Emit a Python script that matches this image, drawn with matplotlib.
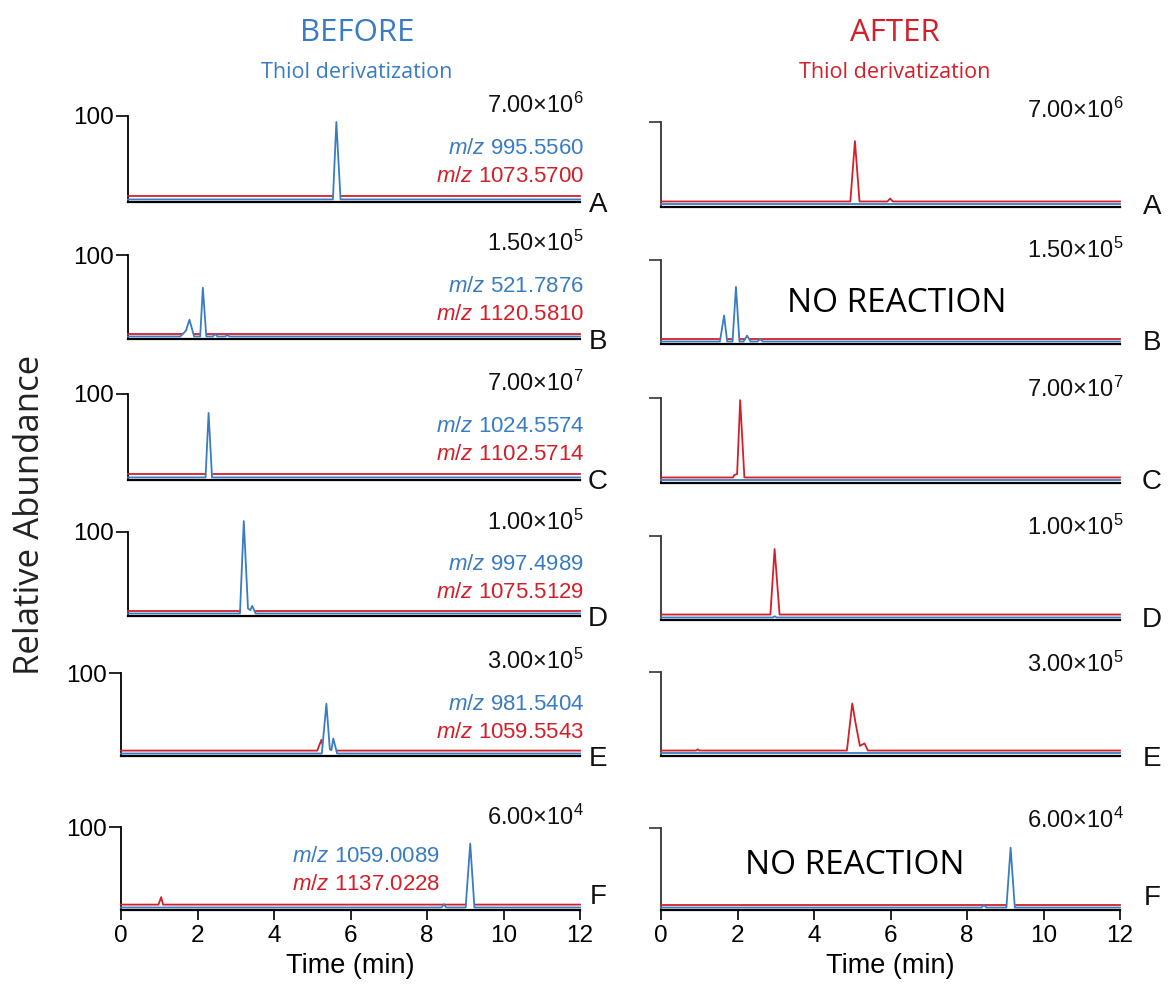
import matplotlib
matplotlib.use("Agg")
import matplotlib.pyplot as plt

plt.rcParams['font.family'] = ['Liberation Sans', 'DejaVu Sans']
plt.rcParams['mathtext.fontset'] = 'custom'
plt.rcParams['mathtext.rm'] = 'Liberation Sans'
plt.rcParams['mathtext.it'] = 'Liberation Sans:italic'

BLUE = '#3a7cc2'
RED = '#d2202a'

# ---- data: extracted ion chromatograms (time in min, relative abundance %) ----
rows = ['A', 'B', 'C', 'D', 'E', 'F']
scales = ['7.00×10$^{6}$', '1.50×10$^{5}$', '7.00×10$^{7}$',
          '1.00×10$^{5}$', '3.00×10$^{5}$', '6.00×10$^{4}$']
mz_blue = ['995.5560', '521.7876', '1024.5574', '997.4989', '981.5404', '1059.0089']
mz_red = ['1073.5700', '1120.5810', '1102.5714', '1075.5129', '1059.5543', '1137.0228']

# BEFORE thiol derivatization
bA_blue_t = [0.18, 5.54, 5.63, 5.74, 12]
bA_blue_y = [0, 0, 90, 0, 0]
bA_red_t = [0.18, 12]
bA_red_y = [0, 0]

bB_blue_t = [0.18, 1.55, 1.70, 1.79, 1.91, 2.07, 2.14, 2.23, 2.40, 2.46, 2.52, 2.72, 2.78, 2.84, 12]
bB_blue_y = [0, 0, 7, 20, 0, 0, 58, 0, 0, 3, 0, 0, 1.5, 0, 0]
bB_red_t = [0.18, 12]
bB_red_y = [0, 0]

bC_blue_t = [0.18, 2.21, 2.29, 2.38, 12]
bC_blue_y = [0, 0, 75, 0, 0]
bC_red_t = [0.18, 12]
bC_red_y = [0, 0]

bD_blue_t = [0.18, 3.11, 3.21, 3.32, 3.38, 3.43, 3.52, 12]
bD_blue_y = [0, 0, 110, 6, 4, 9, 0, 0]
bD_red_t = [0.18, 12]
bD_red_y = [0, 0]

bE_blue_t = [0, 5.25, 5.37, 5.46, 5.50, 5.55, 5.65, 12]
bE_blue_y = [0, 0, 60, 5, 4, 18, 0, 0]
bE_red_t = [0, 5.13, 5.24, 5.31, 12]
bE_red_y = [0, 0, 13, 0, 0]

bF_blue_t = [0, 8.38, 8.44, 8.50, 9.01, 9.13, 9.24, 12]
bF_blue_y = [0, 0, 4, 0, 0, 77, 0, 0]
bF_red_t = [0, 0.98, 1.05, 1.10, 12]
bF_red_y = [0, 0, 9, 0, 0]

# AFTER thiol derivatization
aA_blue_t = [0, 12]
aA_blue_y = [0, 0]
aA_red_t = [0, 4.95, 5.07, 5.19, 5.92, 5.99, 6.06, 12]
aA_red_y = [0, 0, 71, 0, 0, 3.5, 0, 0]

aB_blue_t = [0, 1.54, 1.65, 1.73, 1.87, 1.96, 2.05, 2.16, 2.25, 2.34, 2.52, 2.59, 2.66, 12]
aB_blue_y = [0, 0, 31, 0, 0, 65, 0, 0, 7, 0, 0, 3, 0, 0]
aB_red_t = [0, 12]
aB_red_y = [0, 0]

aC_blue_t = [0, 12]
aC_blue_y = [0, 0]
aC_red_t = [0, 1.88, 1.92, 1.99, 2.07, 2.18, 12]
aC_red_y = [0, 0, 3, 4, 91, 0, 0]

aD_blue_t = [0, 2.92, 2.97, 3.02, 12]
aD_blue_y = [0, 0, 1.5, 0, 0]
aD_red_t = [0, 2.86, 2.97, 3.10, 12]
aD_red_y = [0, 0, 78, 0, 0]

aE_blue_t = [0, 12]
aE_blue_y = [0, 0]
aE_red_t = [0, 0.92, 0.96, 1.00, 4.86, 5.00, 5.09, 5.20, 5.32, 5.41, 12]
aE_red_y = [0, 0, 1.5, 0, 0, 56, 32, 5.5, 8.5, 0, 0]

aF_blue_t = [0, 8.38, 8.44, 8.51, 9.03, 9.14, 9.25, 12]
aF_blue_y = [0, 0, 3, 0, 0, 73, 0, 0]
aF_red_t = [0, 12]
aF_red_y = [0, 0]

before = [(bA_blue_t, bA_blue_y, bA_red_t, bA_red_y),
          (bB_blue_t, bB_blue_y, bB_red_t, bB_red_y),
          (bC_blue_t, bC_blue_y, bC_red_t, bC_red_y),
          (bD_blue_t, bD_blue_y, bD_red_t, bD_red_y),
          (bE_blue_t, bE_blue_y, bE_red_t, bE_red_y),
          (bF_blue_t, bF_blue_y, bF_red_t, bF_red_y)]
after = [(aA_blue_t, aA_blue_y, aA_red_t, aA_red_y),
         (aB_blue_t, aB_blue_y, aB_red_t, aB_red_y),
         (aC_blue_t, aC_blue_y, aC_red_t, aC_red_y),
         (aD_blue_t, aD_blue_y, aD_red_t, aD_red_y),
         (aE_blue_t, aE_blue_y, aE_red_t, aE_red_y),
         (aF_blue_t, aF_blue_y, aF_red_t, aF_red_y)]

# ---- layout (pixels) ----
W, H = 1172, 990
BLUE_OFF, RED_OFF = 3, 6.5
col_x = [(121, 580), (661, 1120)]
rows_px = [[(116, 202), (255, 339), (394, 480), (532, 616), (673, 756), (827, 910)],
           [(122, 207), (260, 344), (398, 483), (536, 620), (672, 756), (828, 910)]]
letter_y = [[205, 342, 482, 619, 759, 897], [207, 343, 482, 620, 759, 898]]
scale_y = [[105, 243, 383, 522, 661, 817], [110, 250, 389, 527, 664, 820]]


def fx(x):
    return x / W


def fy(y):
    return 1 - y / H


fig = plt.figure(figsize=(W / 100, H / 100), dpi=100)


def draw_trace(ax, t, y, off, color, z):
    yy = [v + off for v in y]
    ax.fill_between(t, off, yy, color='white', lw=0, zorder=z)
    ax.plot(t, yy, color=color, lw=1.3, zorder=z + 0.05, clip_on=False)


for c, data in enumerate([before, after]):
    x0, x1 = col_x[c]
    for r in range(6):
        top, bot = rows_px[c][r]
        ax = fig.add_axes([fx(x0), fy(bot), (x1 - x0) / W, (bot - top) / H])
        ax.set_xlim(0, 12)
        ax.set_ylim(0, 100)
        ax.patch.set_alpha(0)
        for s in ['top', 'right']:
            ax.spines[s].set_visible(False)
        spine_col = 'black' if c == 0 else '#333333'
        ax.spines['left'].set_color(spine_col)
        ax.spines['left'].set_linewidth(1.3)
        ax.spines['bottom'].set_linewidth(1.6)
        if c == 0 and r < 4:
            ax.spines['left'].set_position(('data', 0.18))
            ax.spines['bottom'].set_bounds(0.18, 12)
        ax.set_yticks([100])
        ax.set_yticklabels(['100'] if c == 0 else [''])
        ax.tick_params(axis='y', length=9, width=1.2, color=spine_col,
                       labelsize=17.5, pad=1)

        bt, by, rt, ry = data[r]
        traces = [(bt, by, BLUE_OFF, BLUE), (rt, ry, RED_OFF, RED)]
        traces.sort(key=lambda tr: max(tr[1]))
        for i, (t, y, off, col) in enumerate(traces):
            draw_trace(ax, t, y, off, col, 3 + i * 0.2)

        if r == 5:
            ax.set_xticks(range(0, 13, 2))
            ax.tick_params(axis='x', length=7, width=1.2, labelsize=17.5, pad=4)
            ax.set_xlabel('Time (min)', fontsize=19.5, labelpad=4)
        else:
            ax.tick_params(axis='x', bottom=False, labelbottom=False)

        # scale labels, m/z labels and row letters
        fig.text(fx(x1 + 4), fy(scale_y[c][r]), scales[r], fontsize=17,
                 ha='right', va='center', color='#111111')
        fig.text(fx(x1 + 18 if c == 0 else x1 + 32), fy(letter_y[c][r]), rows[r],
                 fontsize=20, ha='center', va='center', color='#111111')
        if c == 0:
            if r < 5:
                mx = x1 + 4
                my = top + 32
            else:
                mx = 440
                my = 857
            fig.text(fx(mx), fy(my), '$m/z$ ' + mz_blue[r], color=BLUE,
                     fontsize=16, ha='right', va='center')
            fig.text(fx(mx), fy(my + 28), '$m/z$ ' + mz_red[r], color=RED,
                     fontsize=16, ha='right', va='center')

# column headers
fig.text(fx(357), fy(33), 'BEFORE', color=BLUE, fontsize=22.5, ha='center',
         va='center', family='Open Sans')
fig.text(fx(357), fy(72), 'Thiol derivatization', color=BLUE, fontsize=15.5,
         ha='center', va='center', family='Open Sans')
fig.text(fx(895), fy(33), 'AFTER', color=RED, fontsize=22.5, ha='center',
         va='center', family='Open Sans')
fig.text(fx(895), fy(72), 'Thiol derivatization', color=RED, fontsize=15.5,
         ha='center', va='center', family='Open Sans')

fig.text(fx(30), fy(515), 'Relative Abundance', rotation=90, fontsize=25,
         ha='center', va='center', color='#222222', family='Open Sans')

fig.text(fx(897), fy(303), 'NO REACTION', fontsize=24, ha='center', va='center',
         family='Open Sans')
fig.text(fx(855), fy(865), 'NO REACTION', fontsize=24, ha='center', va='center',
         family='Open Sans')

fig.savefig('out.png', dpi=100)
